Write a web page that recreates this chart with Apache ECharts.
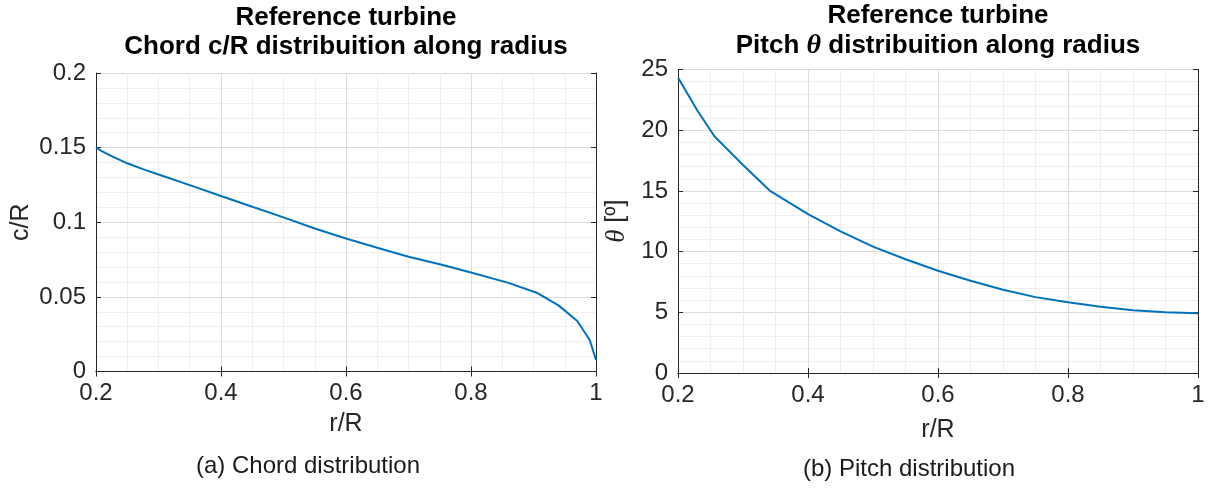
<!DOCTYPE html>
<html>
<head>
<meta charset="utf-8">
<script src="https://cdn.jsdelivr.net/npm/echarts@6/dist/echarts.min.js"></script>
<style>
  html, body { margin: 0; padding: 0; background: #ffffff; }
  #chart { width: 1208px; height: 488px; }
</style>
</head>
<body>
<div id="chart"></div>
<script>
// ---- data ----
const rChord = [0.2, 0.21, 0.225, 0.25, 0.275, 0.3, 0.35, 0.4, 0.45, 0.5, 0.55, 0.6, 0.65, 0.7, 0.75, 0.8, 0.86, 0.905, 0.94, 0.97, 0.99, 1.0];
const chordOverR = [0.150, 0.1475, 0.1443, 0.1395, 0.1356, 0.132, 0.1249, 0.1176, 0.1104, 0.1033, 0.0958, 0.0891, 0.0829, 0.0769, 0.0718, 0.0663, 0.0594, 0.0528, 0.0443, 0.0338, 0.0211, 0.0077];

const rPitch = [0.2, 0.23, 0.256, 0.3, 0.341, 0.4, 0.45, 0.5, 0.55, 0.6, 0.65, 0.7, 0.75, 0.8, 0.85, 0.9, 0.95, 1.0];
const pitchDeg = [24.34, 21.6, 19.5, 17.14, 15.03, 13.08, 11.66, 10.41, 9.37, 8.42, 7.6, 6.86, 6.25, 5.82, 5.46, 5.16, 5.0, 4.92];

const xTicks = [0.2, 0.4, 0.6, 0.8, 1];
const chordTicks = [0, 0.05, 0.1, 0.15, 0.2];
const pitchTicks = [0, 5, 10, 15, 20, 25];

const titleA1 = 'Reference turbine';
const titleA2 = 'Chord c/R distribuition along radius';
const titleB1 = 'Reference turbine';
const titleB2 = 'Pitch {th|θ} distribuition along radius';
const captionA = '(a) Chord distribution';
const captionB = '(b) Pitch distribution';
const xName = 'r/R';
const yNameA = 'c/R';
const yNameB = '{th|θ} [º]';

// ---- styling ----
const FONT = "'Liberation Sans', Arial, Helvetica, sans-serif";
const TXT = '#262626';
const TICK_FS = 24;
const majorGrid = { show: true, lineStyle: { color: '#dcdcdc', width: 1 } };
const minorGrid = { show: true, lineStyle: { color: '#eeeeee', width: 1 } };
const fmt = v => String(parseFloat(Number(v).toFixed(6)));

function mainX(gridIndex, nameGap) {
  return {
    type: 'value', gridIndex,
    min: xTicks[0], max: xTicks[xTicks.length - 1], interval: xTicks[1] - xTicks[0],
    name: xName, nameLocation: 'middle', nameGap,
    nameTextStyle: { fontFamily: FONT, fontSize: 25, color: TXT },
    axisLine: { show: true, lineStyle: { color: TXT, width: 1 } },
    axisTick: { show: true, inside: true, length: 5, lineStyle: { color: TXT } },
    axisLabel: { show: true, margin: 10, fontFamily: FONT, fontSize: TICK_FS, color: TXT, formatter: fmt, showMinLabel: true, showMaxLabel: true },
    splitLine: majorGrid,
    minorTick: { show: false, splitNumber: 4 },
    minorSplitLine: minorGrid
  };
}
function topX(gridIndex) {
  return {
    type: 'value', gridIndex, position: 'top',
    min: xTicks[0], max: xTicks[xTicks.length - 1], interval: xTicks[1] - xTicks[0],
    axisLine: { show: true, lineStyle: { color: TXT, width: 1 } },
    axisTick: { show: true, inside: true, length: 5, lineStyle: { color: TXT } },
    axisLabel: { show: false }, splitLine: { show: false }
  };
}
function mainY(gridIndex, ticks, name, nameGap, rich) {
  return {
    type: 'value', gridIndex,
    min: ticks[0], max: ticks[ticks.length - 1], interval: ticks[1] - ticks[0],
    name, nameLocation: 'middle', nameGap, nameRotate: 90,
    nameTextStyle: { fontFamily: FONT, fontSize: 25, color: TXT, rich: rich || {} },
    axisLine: { show: true, lineStyle: { color: TXT, width: 1 } },
    axisTick: { show: true, inside: true, length: 5, lineStyle: { color: TXT } },
    axisLabel: { show: true, margin: 10, fontFamily: FONT, fontSize: TICK_FS, color: TXT, formatter: fmt, showMinLabel: true, showMaxLabel: true },
    splitLine: majorGrid,
    minorTick: { show: false, splitNumber: 5 },
    minorSplitLine: minorGrid
  };
}
function rightY(gridIndex, ticks) {
  return {
    type: 'value', gridIndex, position: 'right',
    min: ticks[0], max: ticks[ticks.length - 1], interval: ticks[1] - ticks[0],
    axisLine: { show: true, lineStyle: { color: TXT, width: 1 } },
    axisTick: { show: true, inside: true, length: 5, lineStyle: { color: TXT } },
    axisLabel: { show: false }, splitLine: { show: false }
  };
}

const thetaRich = { th: { fontFamily: "'Liberation Serif', 'DejaVu Serif', serif", fontStyle: 'italic', fontSize: 27, color: TXT } };

function txt(x, y, text, size, weight, extra) {
  return {
    type: 'text', x, y, silent: true,
    style: Object.assign({
      text, fontFamily: FONT, fontSize: size, fontWeight: weight, fill: '#000000',
      align: 'center', verticalAlign: 'middle', textAlign: 'center', textVerticalAlign: 'middle'
    }, extra || {})
  };
}

const chart = echarts.init(document.getElementById('chart'), null, { renderer: 'canvas' });
chart.setOption({
  animation: false,
  backgroundColor: '#ffffff',
  grid: [
    { left: 96, top: 73, width: 500, height: 298.5, containLabel: false },
    { left: 678, top: 69.5, width: 520, height: 303.5, containLabel: false }
  ],
  xAxis: [mainX(0, 40), mainX(1, 45), topX(0), topX(1)],
  yAxis: [
    mainY(0, chordTicks, yNameA, 62),
    mainY(1, pitchTicks, yNameB, 48, thetaRich),
    rightY(0, chordTicks),
    rightY(1, pitchTicks)
  ],
  series: [
    {
      type: 'line', xAxisIndex: 0, yAxisIndex: 0, showSymbol: false, smooth: false,
      lineStyle: { color: '#0072BD', width: 2 },
      data: rChord.map((r, i) => [r, chordOverR[i]])
    },
    {
      type: 'line', xAxisIndex: 1, yAxisIndex: 1, showSymbol: false, smooth: false,
      lineStyle: { color: '#0072BD', width: 2 },
      data: rPitch.map((r, i) => [r, pitchDeg[i]])
    }
  ],
  graphic: [
    txt(346, 18, titleA1, 26, 'bold'),
    txt(346, 47, titleA2, 26, 'bold'),
    txt(938, 16, titleB1, 26, 'bold'),
    txt(938, 46, titleB2, 26, 'bold', { rich: { th: { fontFamily: "'Liberation Serif', 'DejaVu Serif', serif", fontStyle: 'italic', fontWeight: 'bold', fontSize: 28, fill: '#000000' } } }),
    txt(308, 466, captionA, 24, 'normal', { fill: '#1a1a1a' }),
    txt(909, 469, captionB, 24, 'normal', { fill: '#1a1a1a' })
  ]
});
</script>
</body>
</html>
